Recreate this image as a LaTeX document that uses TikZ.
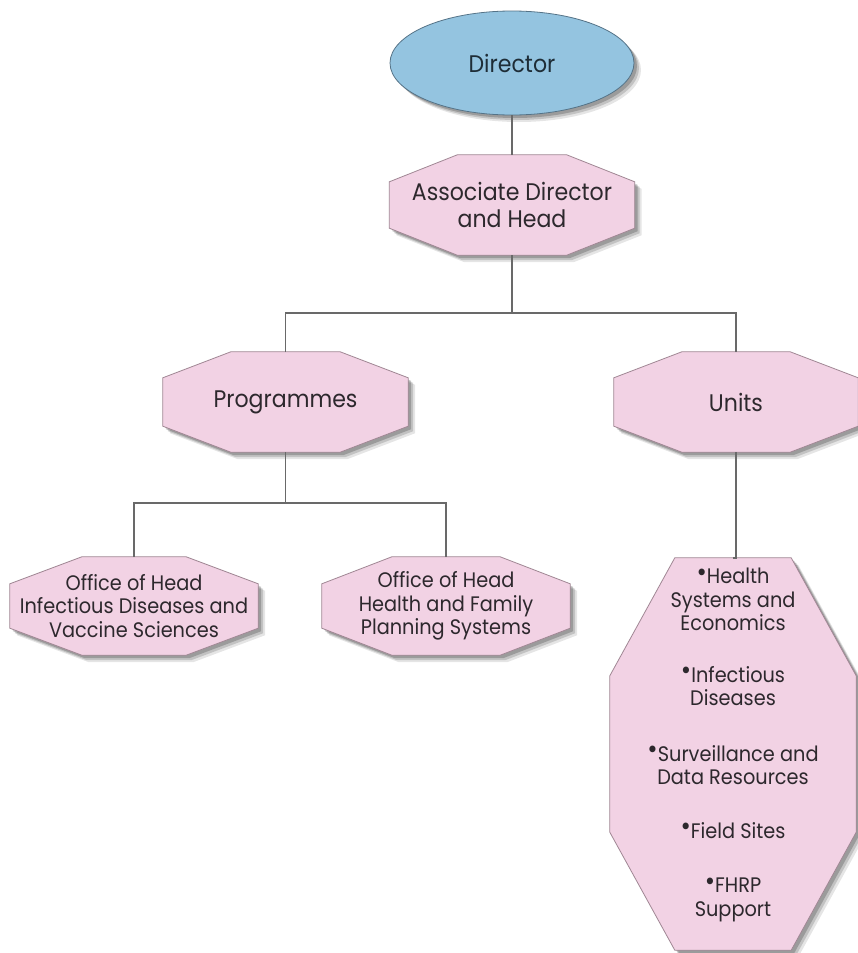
\documentclass[tikz,border=0pt]{standalone}
\usepackage{fontspec}
\setmainfont[FakeStretch=0.92]{Poppins}
\usetikzlibrary{calc,shapes.geometric,shadows}
\pgfdeclarelayer{paper}
\pgfdeclarelayer{bg}
\pgfsetlayers{paper,bg,main}
\definecolor{pinkfill}{RGB}{242,210,228}
\definecolor{pinkline}{RGB}{160,135,148}
\definecolor{bluefill}{RGB}{148,196,224}
\definecolor{blueline}{RGB}{85,115,135}
\definecolor{connc}{RGB}{105,105,105}
\definecolor{txtc}{RGB}{45,40,45}
\definecolor{dirtxt}{RGB}{30,45,55}
\newcommand{\ubul}{\raisebox{.12em}{\scalebox{1.3}{•}}}
\tikzset{
  txtbase/.style={draw=none, inner sep=0pt, align=center, text=txtc},
  bigtxt/.style={txtbase, font=\fontsize{24}{27}\selectfont},
  smalltxt/.style={txtbase, font=\fontsize{21}{23.5}\selectfont},
  softshadow/.style={
    drop shadow={shadow xshift=7pt, shadow yshift=-7pt, opacity=0.10, fill=black},
    drop shadow={shadow xshift=5pt, shadow yshift=-5pt, opacity=0.15, fill=black},
    drop shadow={shadow xshift=3pt, shadow yshift=-3pt, opacity=0.20, fill=black}},
  octshape/.style={fill=pinkfill, draw=pinkline, line width=0.8pt, softshadow},
  ellshape/.style={fill=bluefill, draw=blueline, line width=0.8pt, softshadow},
  connline/.style={draw=connc, line width=1.4pt},
}
\newcommand{\octbox}[3]{%
  \begin{pgfonlayer}{bg}
  \path[octshape] ($(#1.north west)+(#2,0)$) -- ($(#1.north east)+(-#2,0)$)
    -- ($(#1.north east)+(0,#3)$) -- ($(#1.south east)+(0,-#3)$)
    -- ($(#1.south east)+(-#2,0)$) -- ($(#1.south west)+(#2,0)$)
    -- ($(#1.south west)+(0,-#3)$) -- ($(#1.north west)+(0,#3)$) -- cycle;
  \end{pgfonlayer}}
\begin{document}
\begin{tikzpicture}[x=1pt,y=-1pt]
\begin{pgfonlayer}{paper}
\fill[white] (0,0) rectangle (858,953);
\end{pgfonlayer}
\useasboundingbox (0,0) rectangle (858,953);

% Director
\node[bigtxt, ellipse, minimum width=244pt, minimum height=104pt, text=dirtxt] (dir) at (512,63) {Director};
\begin{pgfonlayer}{bg}
\path[ellshape] (dir.center) ellipse [x radius=122, y radius=52];
\end{pgfonlayer}

% Associate Director
\node[bigtxt, minimum width=245pt, minimum height=100pt] (assoc) at (512,205) {Associate Director\\and Head};
\octbox{assoc}{68}{27}

% Programmes and Units
\node[bigtxt, minimum width=245pt, minimum height=100pt] (prog) at (285.5,402) {Programmes};
\octbox{prog}{68}{26}
\node[bigtxt, minimum width=244pt, minimum height=100pt] (units) at (736,402) {Units};
\octbox{units}{68}{26}

% Offices
\node[smalltxt, minimum width=248pt, minimum height=98pt] (offL) at (134,606) {Office of Head\\Infectious Diseases and\\Vaccine Sciences};
\octbox{offL}{72}{27}
\node[smalltxt, minimum width=248pt, minimum height=98pt] (offR) at (446,606) {Office of Head\\Health and Family\\Planning Systems};
\octbox{offR}{70}{27}

% Units list
\node[draw=none, inner sep=0pt, minimum width=246pt, minimum height=392pt] (unitlist) at (733,754) {};
\octbox{unitlist}{65}{118}
\node[smalltxt] (unittext) at (733,745) {\ubul Health\\Systems and\\Economics\\[28pt]
  \ubul Infectious\\Diseases\\[32pt]
  \ubul Surveillance and\\Data Resources\\[30pt]
  \ubul Field Sites\\[31pt]
  \ubul FHRP\\Support};

% Connectors
\coordinate (bus1) at (512,313);
\coordinate (bus2) at (285.5,503);
\draw[connline] (dir.south) -- (assoc.north);
\draw[connline] (assoc.south) -- (bus1);
\draw[connline] (prog.north) |- (bus1) -| (units.north);
\draw[connline] (prog.south) -- (bus2);
\draw[connline] (offL.north) |- (bus2) -| (offR.north);
\draw[connline] (units.south) |- (unitlist.north);
\end{tikzpicture}
\end{document}
